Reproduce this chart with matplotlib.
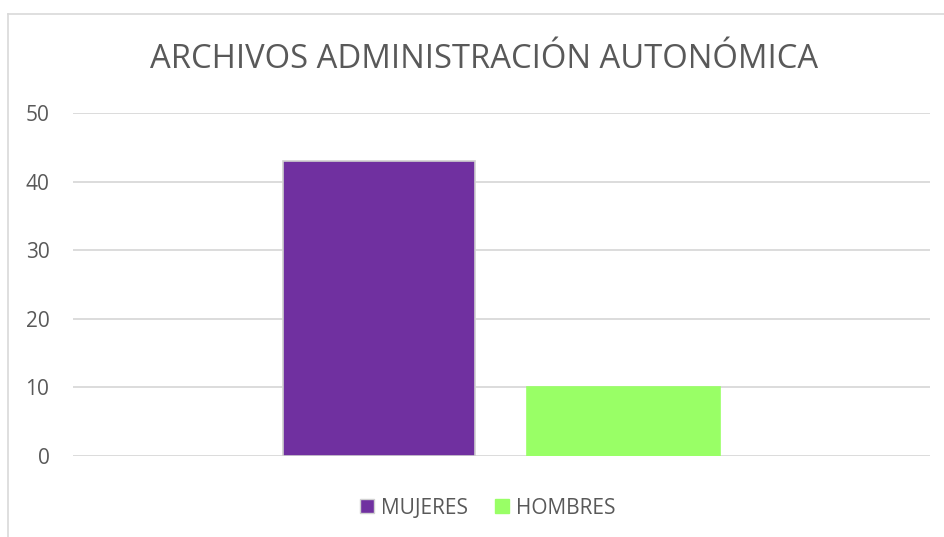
import matplotlib
matplotlib.use("Agg")
import matplotlib.pyplot as plt
from matplotlib.patches import Patch
from matplotlib.lines import Line2D

series = ["MUJERES", "HOMBRES"]
values = [43, 10]
colors = ["#7030A0", "#99FF66"]
yticks = [0, 10, 20, 30, 40, 50]
title = "ARCHIVOS ADMINISTRACIÓN AUTONÓMICA"

plt.rcParams['font.family'] = ['Open Sans', 'DejaVu Sans']
W, H = 944, 537
fig = plt.figure(figsize=(W/100, H/100), dpi=100)
fig.patch.set_facecolor("white")

# chart border (left and top visible)
fig.add_artist(Line2D([8/W, 8/W], [0, 1 - 14/H], color="#D9D9D9", lw=1.2))
fig.add_artist(Line2D([8/W, 1], [1 - 14/H, 1 - 14/H], color="#D9D9D9", lw=1.2))

ax = fig.add_axes([73/W, 81/H, 857/W, 343/H])
offsets = [-0.143, 0.142]
width = 0.225
for i, (s, v, c) in enumerate(zip(series, values, colors)):
    ec = "#D0D0D0" if i == 0 else c
    ax.bar(offsets[i], v, width=width, color=c, edgecolor=ec, linewidth=1.2, zorder=3, label=s)

ax.set_xlim(-0.5, 0.5)
ax.set_ylim(0, 50)
ax.set_yticks(yticks)
ax.set_xticks([])
for y in yticks:
    ax.axhline(y, color="#D9D9D9", lw=1.3, zorder=1)
for sp in ax.spines.values():
    sp.set_visible(False)
ax.tick_params(axis="y", length=0, labelsize=15, labelcolor="#595959", pad=17)

fig.text(484/W, 1 - 60/H, title, ha="center", va="center", fontsize=23.6, color="#595959")

handles = [Patch(facecolor=colors[0], edgecolor="#D0D0D0"), Patch(facecolor=colors[1], edgecolor=colors[1])]
fig.legend(handles, series, loc="center", bbox_to_anchor=(488/W, 1 - 508/H), ncol=2, frameon=False,
           fontsize=15, labelcolor="#595959", handlelength=0.65, handleheight=0.65,
           handletextpad=0.35, columnspacing=1.3)

fig.savefig("out.png", dpi=100)
